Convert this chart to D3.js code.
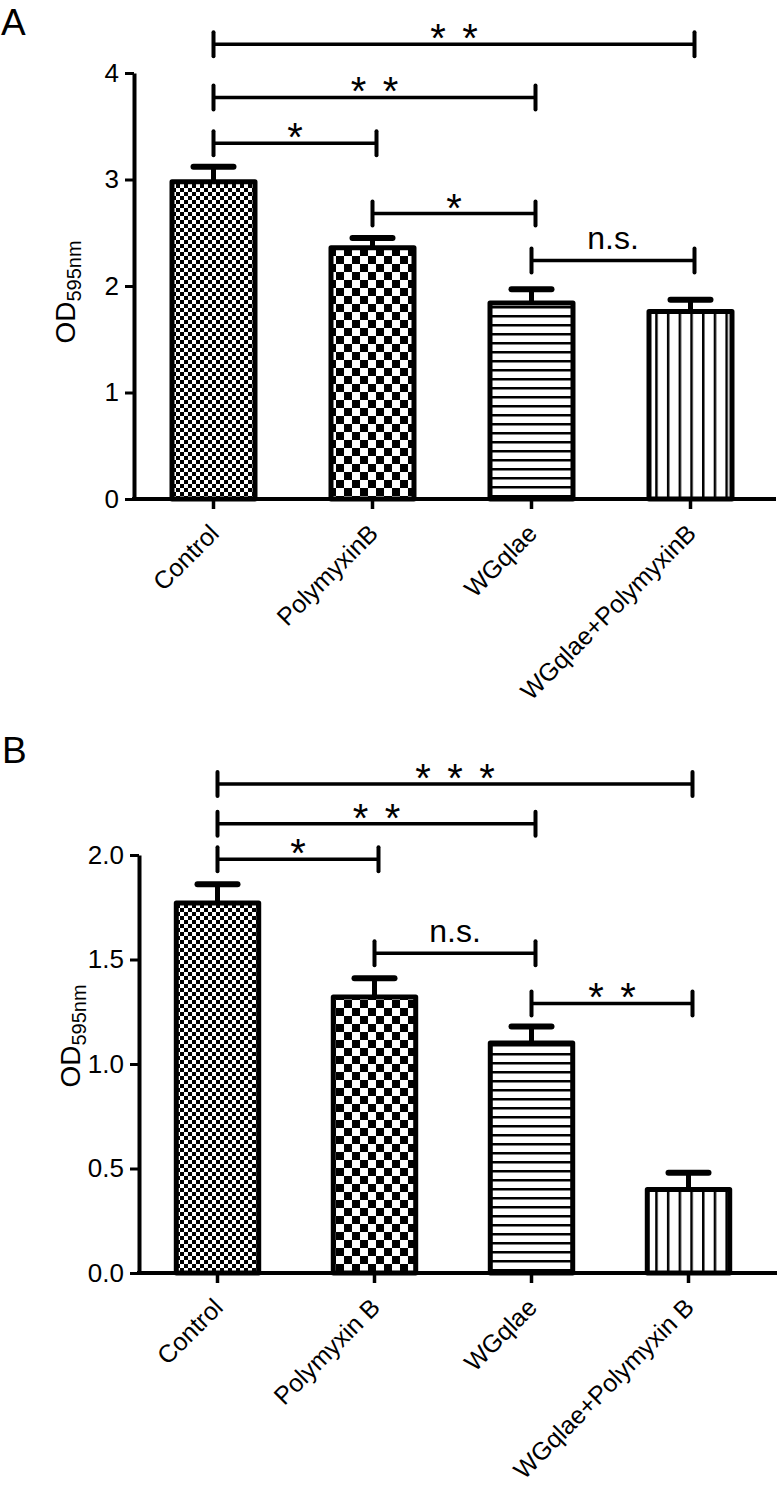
<!DOCTYPE html>
<html>
<head>
<meta charset="utf-8">
<script src="https://cdn.jsdelivr.net/npm/d3@7"></script>
<style>
  html, body { margin: 0; padding: 0; background: #fff; }
  svg text { font-family: "Liberation Sans", Arial, Helvetica, sans-serif; fill: #000; }
</style>
</head>
<body>
<script>
// ---------- Panel A data ----------
const categoriesA = ["Control", "PolymyxinB", "WGqlae", "WGqlae+PolymyxinB"];
const meansA = [2.98, 2.36, 1.84, 1.76];
const errorsA = [0.14, 0.09, 0.13, 0.11];
const yTicksA = [0, 1, 2, 3, 4];
const bracketFromA = [0, 0, 0, 1, 2];
const bracketToA = [3, 2, 1, 2, 3];
const bracketLevelA = [4.27, 3.77, 3.34, 2.68, 2.24];
const bracketLabelA = ["* *", "* *", "*", "*", "n.s."];

// ---------- Panel B data ----------
const categoriesB = ["Control", "Polymyxin B", "WGqlae", "WGqlae+Polymyxin B"];
const meansB = [1.77, 1.32, 1.10, 0.40];
const errorsB = [0.09, 0.09, 0.08, 0.08];
const yTicksB = [0.0, 0.5, 1.0, 1.5, 2.0];
const bracketFromB = [0, 0, 0, 1, 2];
const bracketToB = [3, 2, 1, 2, 3];
const bracketLevelB = [2.34, 2.15, 1.98, 1.53, 1.29];
const bracketLabelB = ["* * *", "* *", "*", "n.s.", "* *"];

const patternIds = ["fineChecker", "coarseChecker", "hLines", "vLines"];

const W = 781, H = 1492;
const svg = d3.select("body").append("svg").attr("width", W).attr("height", H);
svg.append("rect").attr("width", W).attr("height", H).attr("fill", "#fff");

// ---------- patterns ----------
const defs = svg.append("defs");
function checker(id, c) {
  const p = defs.append("pattern").attr("id", id).attr("patternUnits", "userSpaceOnUse")
    .attr("width", 2 * c).attr("height", 2 * c);
  p.append("rect").attr("width", 2 * c).attr("height", 2 * c).attr("fill", "#fff");
  p.append("rect").attr("width", c).attr("height", c).attr("fill", "#000");
  p.append("rect").attr("x", c).attr("y", c).attr("width", c).attr("height", c).attr("fill", "#000");
}
checker("fineChecker", 4);
checker("coarseChecker", 8);
{
  const p = defs.append("pattern").attr("id", "hLines").attr("patternUnits", "userSpaceOnUse")
    .attr("width", 9).attr("height", 9);
  p.append("rect").attr("width", 9).attr("height", 9).attr("fill", "#fff");
  p.append("rect").attr("y", 0).attr("width", 9).attr("height", 2.5).attr("fill", "#000");
}
{
  const p = defs.append("pattern").attr("id", "vLines").attr("patternUnits", "userSpaceOnUse")
    .attr("width", 11.7).attr("height", 12);
  p.append("rect").attr("width", 11.7).attr("height", 12).attr("fill", "#fff");
  p.append("rect").attr("x", 0).attr("width", 2.5).attr("height", 12).attr("fill", "#000");
}

function drawPanel(cfg) {
  const g = svg.append("g");
  const x = d3.scaleBand().domain(cfg.cats).range([cfg.x0, cfg.x1])
    .paddingInner(cfg.padIn).paddingOuter(cfg.padIn / 2);
  const y = d3.scaleLinear().domain([0, cfg.yMax]).range([cfg.yBottom, cfg.yTop]);
  const cx = i => x(cfg.cats[i]) + x.bandwidth() / 2;

  // panel letter
  g.append("text").attr("x", cfg.letterX).attr("y", cfg.letterY)
    .attr("font-size", 37).text(cfg.letter);

  // y axis
  const ya = g.append("g").attr("transform", `translate(${cfg.x0},0)`)
    .call(d3.axisLeft(y).tickValues(cfg.yTicks).tickFormat(cfg.fmt).tickSize(9).tickSizeOuter(0).tickPadding(6));
  ya.select(".domain").attr("stroke", "#000").attr("stroke-width", 4);
  ya.selectAll(".tick line").attr("stroke", "#000").attr("stroke-width", 3);
  ya.selectAll(".tick text").attr("font-size", 26).attr("font-family", "Liberation Sans, Arial, sans-serif").attr("fill", "#000");

  // y label
  const yl = g.append("text").attr("transform", `translate(${cfg.ylabX},${cfg.ylabY}) rotate(-90)`)
    .attr("text-anchor", "middle");
  yl.append("tspan").attr("font-size", 28).text("OD");
  yl.append("tspan").attr("font-size", 20).attr("dy", 6).text("595nm");

  // bars
  g.selectAll("rect.bar").data(cfg.means).enter().append("rect").attr("class", "bar")
    .attr("x", (d, i) => x(cfg.cats[i]))
    .attr("y", d => y(d))
    .attr("width", x.bandwidth())
    .attr("height", d => y(0) - y(d))
    .attr("fill", (d, i) => `url(#${patternIds[i]})`)
    .attr("stroke", "#000").attr("stroke-width", 5).attr("stroke-linejoin", "round");

  // error bars
  cfg.means.forEach((m, i) => {
    g.append("line").attr("x1", cx(i)).attr("x2", cx(i))
      .attr("y1", y(m)).attr("y2", y(m + cfg.errs[i]))
      .attr("stroke", "#000").attr("stroke-width", 5);
    g.append("line").attr("x1", cx(i) - 20).attr("x2", cx(i) + 20)
      .attr("y1", y(m + cfg.errs[i])).attr("y2", y(m + cfg.errs[i]))
      .attr("stroke", "#000").attr("stroke-width", 6).attr("stroke-linecap", "round");
  });

  // x axis
  const xa = g.append("g").attr("transform", `translate(0,${cfg.yBottom})`)
    .call(d3.axisBottom(x).tickSize(10).tickSizeOuter(0).tickFormat(""));
  xa.select(".domain").remove();
  xa.selectAll(".tick line").attr("stroke", "#000").attr("stroke-width", 3.5);
  g.append("line").attr("x1", cfg.x0 - 2).attr("x2", cfg.axisEnd)
    .attr("y1", cfg.yBottom).attr("y2", cfg.yBottom)
    .attr("stroke", "#000").attr("stroke-width", 4);

  // x labels
  cfg.cats.forEach((c, i) => {
    g.append("text")
      .attr("transform", `translate(${cx(i) + 7},${cfg.yBottom + 36}) rotate(-45)`)
      .attr("text-anchor", "end").attr("font-size", 25).text(c);
  });

  // significance brackets
  cfg.bFrom.forEach((f, k) => {
    const xa1 = cx(f), xa2 = cx(cfg.bTo[k]) + 4, by = y(cfg.bLevel[k]);
    g.append("line").attr("x1", xa1).attr("x2", xa2).attr("y1", by).attr("y2", by)
      .attr("stroke", "#000").attr("stroke-width", 3.5);
    [xa1, xa2].forEach(xx => {
      g.append("line").attr("x1", xx).attr("x2", xx).attr("y1", by - 12).attr("y2", by + 12)
        .attr("stroke", "#000").attr("stroke-width", 4).attr("stroke-linecap", "round");
    });
    const mid = (xa1 + xa2) / 2;
    const lab = cfg.bLabel[k];
    if (lab.replace(/ /g, "").match(/^\*+$/)) {
      const n = lab.replace(/ /g, "").length;
      for (let s = 0; s < n; s++) {
        g.append("text").attr("x", mid + (s - (n - 1) / 2) * 32).attr("y", by + 8)
          .attr("text-anchor", "middle").attr("font-size", 40).text("*");
      }
    } else {
      g.append("text").attr("x", mid).attr("y", by - 11)
        .attr("text-anchor", "middle").attr("font-size", 32).text(lab);
    }
  });
}

drawPanel({
  letter: "A", letterX: 1, letterY: 35,
  cats: categoriesA, means: meansA, errs: errorsA, yTicks: yTicksA, fmt: d3.format("d"),
  yMax: 4, yBottom: 499, yTop: 73, x0: 134, x1: 770, axisEnd: 776, padIn: 0.478,
  ylabX: 75, ylabY: 292,
  bFrom: bracketFromA, bTo: bracketToA, bLevel: bracketLevelA, bLabel: bracketLabelA
});

drawPanel({
  letter: "B", letterX: 2, letterY: 763,
  cats: categoriesB, means: meansB, errs: errorsB, yTicks: yTicksB, fmt: d3.format(".1f"),
  yMax: 2, yBottom: 1273, yTop: 855, x0: 139, x1: 767, axisEnd: 777, padIn: 0.475,
  ylabX: 80, ylabY: 1036,
  bFrom: bracketFromB, bTo: bracketToB, bLevel: bracketLevelB, bLabel: bracketLabelB
});
</script>
</body>
</html>
